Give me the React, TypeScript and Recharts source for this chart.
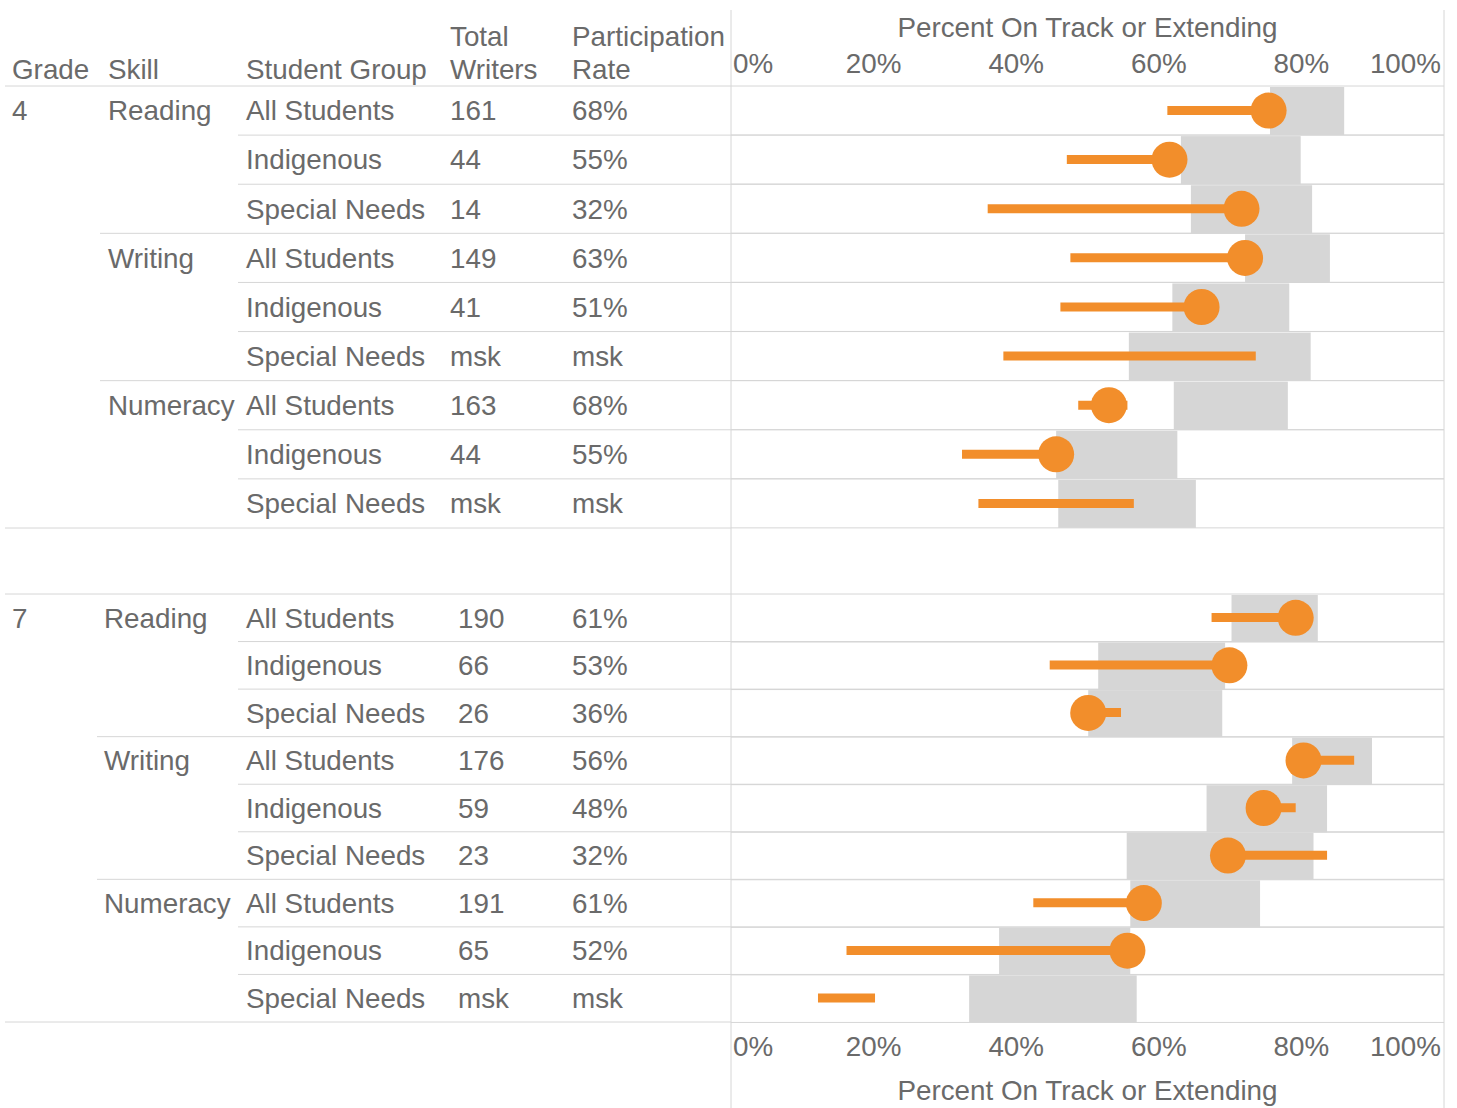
import { ComposedChart, Bar, Line, XAxis, YAxis } from 'recharts';

const groups = ['All Students', 'Indigenous', 'Special Needs'];
const skills = ['Reading', 'Writing', 'Numeracy'];
const pctTicks = [0, 20, 40, 60, 80, 100];

// grade 4
const writers4 = ['161', '44', '14', '149', '41', 'msk', '163', '44', 'msk'];
const rates4 = ['68%', '55%', '32%', '63%', '51%', 'msk', '68%', '55%', 'msk'];
const bandLow4 = [75.6, 63.1, 64.5, 72.1, 61.9, 55.8, 62.1, 45.6, 45.9];
const bandHigh4 = [86.0, 79.9, 81.5, 84.0, 78.3, 81.3, 78.1, 62.6, 65.2];
const lineFrom4 = [61.2, 47.1, 36.0, 47.6, 46.2, 38.2, 48.7, 32.4, 34.7];
const lineTo4 = [75.4, 61.5, 71.6, 72.1, 66.0, 73.6, 55.6, 45.6, 56.5];
const dot4 = [75.4, 61.5, 71.6, 72.1, 66.0, null, 53.0, 45.6, null];

// grade 7
const writers7 = ['190', '66', '26', '176', '59', '23', '191', '65', 'msk'];
const rates7 = ['61%', '53%', '36%', '56%', '48%', '32%', '61%', '52%', 'msk'];
const bandLow7 = [70.2, 51.5, 50.1, 78.7, 66.7, 55.5, 56.0, 37.6, 33.4];
const bandHigh7 = [82.3, 69.3, 68.9, 89.9, 83.6, 81.7, 74.2, 56.0, 56.9];
const lineFrom7 = [67.4, 44.7, 50.1, 80.3, 72.3, 69.7, 42.4, 16.2, 12.2];
const lineTo7 = [79.2, 69.9, 54.7, 87.4, 79.2, 83.6, 57.9, 55.6, 20.2];
const dot7 = [79.2, 69.9, 50.1, 80.3, 74.7, 69.7, 57.9, 55.6, null];

const TEXT = '#6a6a6a';
const RULE = '#d6d6d6';
const GREY = '#d6d6d6';
const ORANGE = '#f28e2b';
const FONT = '"Liberation Sans", Arial, sans-serif';
const FS = 27.8;
const PLOT_LEFT = 731;

function buildRows(grade: string, writers: string[], rates: string[], lo: number[], hi: number[],
  from: number[], to: number[], dots: (number | null)[]) {
  return writers.map((w, i) => ({
    id: `${grade}-${i}`,
    grade,
    skill: skills[Math.floor(i / 3)],
    group: groups[i % 3],
    writers: w,
    rate: rates[i],
    band: [lo[i], hi[i]],
    line: [from[i], to[i]],
    dot: dots[i],
  }));
}

const rows4 = buildRows('4', writers4, rates4, bandLow4, bandHigh4, lineFrom4, lineTo4, dot4);
const rows7 = buildRows('7', writers7, rates7, bandLow7, bandHigh7, lineFrom7, lineTo7, dot7);

function TableTick(props: any) {
  const { y, rows, rowH, skillX, writersX, skillLineX } = props;
  const i = props.payload?.index ?? props.index;
  const r = rows[i];
  if (!r) return null;
  const last = i === rows.length - 1;
  const start = last ? 5 : (i + 1) % 3 === 0 ? skillLineX : 238;
  const txt = { fill: TEXT, fontSize: FS, fontFamily: FONT, dy: '0.35em' } as any;
  return (
    <g>
      {i === 0 && <line x1={5} x2={PLOT_LEFT} y1={y - rowH / 2} y2={y - rowH / 2} stroke={RULE} />}
      <line x1={start} x2={PLOT_LEFT} y1={y + rowH / 2} y2={y + rowH / 2} stroke={RULE} />
      {i === 0 && <text x={12} y={y} {...txt}>{r.grade}</text>}
      {i % 3 === 0 && <text x={skillX} y={y} {...txt}>{r.skill}</text>}
      <text x={246} y={y} {...txt}>{r.group}</text>
      <text x={writersX} y={y} {...txt}>{r.writers}</text>
      <text x={572} y={y} {...txt}>{r.rate}</text>
    </g>
  );
}

function PctTick(props: any) {
  const { x, payload, baseline } = props;
  const v = payload.value;
  const anchor = v === 0 ? 'start' : v === 100 ? 'end' : 'middle';
  const tx = v === 0 ? x + 2 : v === 100 ? x - 3 : x;
  return (
    <text x={tx} y={baseline} textAnchor={anchor} fill={TEXT} fontSize={FS} fontFamily={FONT}>
      {v}%
    </text>
  );
}

function AxisTitle(props: any) {
  const { viewBox, baseline } = props;
  return (
    <text x={viewBox.x + viewBox.width / 2} y={baseline} textAnchor="middle" fill={TEXT} fontSize={FS} fontFamily={FONT}>
      Percent On Track or Extending
    </text>
  );
}

function RowLines(props: any) {
  const { x, y, width, height, index } = props;
  return (
    <g key={`rl-${index}`}>
      <line x1={x} x2={x + width} y1={y} y2={y} stroke={RULE} />
      <line x1={x} x2={x + width} y1={y + height} y2={y + height} stroke={RULE} />
    </g>
  );
}

function GreyRect(props: any) {
  const { x, y, width, height } = props;
  return <rect x={x} y={y + 1} width={Math.max(0, width)} height={Math.max(0, height - 1)} fill={GREY} />;
}

function renderDot(p: any) {
  if (p.payload?.dot == null || p.cx == null) return <g key={`d-${p.index}`} />;
  return <circle key={`d-${p.index}`} cx={p.cx} cy={p.cy} r={18} fill={ORANGE} />;
}

function GradeChart(props: any) {
  const { rows, height, axisTop, rowH, skillX, writersX, skillLineX, tickBase, titleBase } = props;
  return (
    <ComposedChart
      layout="vertical"
      width={1457}
      height={height}
      data={rows}
      barCategoryGap={0}
      barGap={0}
      margin={{ top: axisTop ? 0 : 2, right: 13, bottom: axisTop ? 2 : 0, left: 0 }}
    >
      <XAxis
        type="number"
        domain={[0, 100]}
        ticks={pctTicks}
        orientation={axisTop ? 'top' : 'bottom'}
        height={86}
        axisLine={false}
        tickLine={false}
        interval={0}
        tick={(p: any) => <PctTick {...p} baseline={tickBase} />}
        label={<AxisTitle baseline={titleBase} />}
      />
      <YAxis
        type="category"
        dataKey="id"
        width={PLOT_LEFT}
        axisLine={false}
        tickLine={false}
        interval={0}
        tick={(p: any) => (
          <TableTick {...p} rows={rows} rowH={rowH} skillX={skillX} writersX={writersX} skillLineX={skillLineX} />
        )}
      />
      <YAxis yAxisId="b" type="category" dataKey="id" hide />
      <Bar dataKey="band" shape={GreyRect} background={RowLines} isAnimationActive={false} />
      <Bar yAxisId="b" dataKey="line" fill={ORANGE} barSize={9} isAnimationActive={false} />
      <Line
        yAxisId="b"
        dataKey="dot"
        stroke="none"
        dot={renderDot}
        activeDot={false}
        isAnimationActive={false}
      />
    </ComposedChart>
  );
}

export default function App() {
  const txt = { fill: TEXT, fontSize: FS, fontFamily: FONT } as any;
  return (
    <div style={{ position: 'absolute', left: 0, top: 0, width: 1457, height: 1108, background: '#fff' }}>
      <div style={{ position: 'absolute', left: 0, top: 0 }}>
        <GradeChart
          rows={rows4}
          height={530}
          axisTop
          rowH={442 / 9}
          skillX={108}
          writersX={450}
          skillLineX={100}
          tickBase={72.5}
          titleBase={36.5}
        />
      </div>
      <div style={{ position: 'absolute', left: 0, top: 592 }}>
        <GradeChart
          rows={rows7}
          height={516}
          rowH={428 / 9}
          skillX={104}
          writersX={458}
          skillLineX={97}
          tickBase={463.5}
          titleBase={508}
        />
      </div>
      <svg width={1457} height={1108} style={{ position: 'absolute', left: 0, top: 0, pointerEvents: 'none' }}>
        <line x1={PLOT_LEFT} x2={PLOT_LEFT} y1={10} y2={1108} stroke={RULE} />
        <line x1={1444} x2={1444} y1={10} y2={1108} stroke={RULE} />
        <text x={12} y={79} {...txt}>Grade</text>
        <text x={108} y={79} {...txt}>Skill</text>
        <text x={246} y={79} {...txt}>Student Group</text>
        <text x={450} y={46} {...txt}>Total</text>
        <text x={450} y={79} {...txt}>Writers</text>
        <text x={572} y={46} {...txt}>Participation</text>
        <text x={572} y={79} {...txt}>Rate</text>
      </svg>
    </div>
  );
}
